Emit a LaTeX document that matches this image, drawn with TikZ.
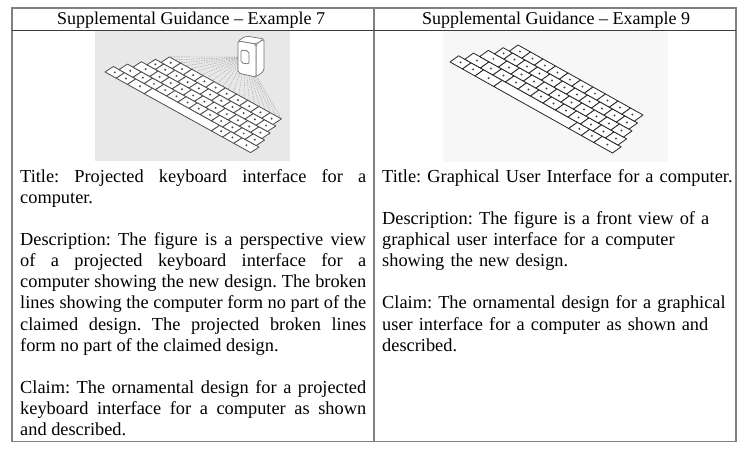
\documentclass[tikz,border=0pt]{standalone}
\usepackage{fontspec}
\setmainfont{Liberation Serif}
\definecolor{tablegray}{RGB}{128,128,128}
\definecolor{headrule}{RGB}{60,60,60}
\tikzset{
  tableline/.style={draw=tablegray,line width=1.6pt},
  headline/.style={draw=headrule,line width=0.9pt},
  headtext/.style={font=\fontsize{18}{21}\selectfont,inner sep=0pt,anchor=base},
  bodytext/.style={font=\fontsize{18.35}{21.1}\selectfont,inner sep=0pt,anchor=base west},
  keycap/.style={draw=black!85,line width=0.8pt,fill=white,line join=round},
  keymark/.style={fill=black!70},
  device/.style={draw=black!55,line width=0.7pt,fill=white,rounded corners=2pt},
  beam/.style={draw=black!40,line width=0.35pt,dash pattern=on 1.5pt off 1pt}
}
\newcommand\keyboard[1]{%
  \foreach \r/\s/\ws in {0/0/{1,1,1.5,6,1,1,1.5},
                         1/0.5/{1.25,1,1,1,1,1,1,1,1,1,1,1},
                         2/1/{1.5,1,1,1,1,1,1,1,1,1,1},
                         3/1.5/{0.75,1,1,1,1,1,1,1,1,1,1},
                         4/2/{1,1,1,1,1,1,1,1,1,1}}{%
    \xdef\kpos{\s}%
    \foreach \w in \ws {%
      \pgfmathsetmacro\knext{\kpos+\w}%
      \draw[keycap] (\kpos,\r) -- (\knext,\r) -- (\knext,\r+1) -- (\kpos,\r+1) -- cycle;
      \ifdim\w pt<2pt \fill[keymark] ({(\kpos+\knext)/2},\r+0.5) circle (1.1pt);\fi
      \xdef\kpos{\knext}%
    }%
  }%
  \foreach \i in {0,...,21} \coordinate (#1-\i) at ({2+\i*10/21},5);
}
\begin{document}
\begin{tikzpicture}[x=1pt,y=-1pt]
  \useasboundingbox (0,0) rectangle (752,454);
  \fill[black!9] (95,31) rectangle (290,161);
  \fill[black!3] (443,31) rectangle (668,162);

  \begin{scope}[shift={(105,72)},x={(11.2pt,-6.2pt)},y={(8.4pt,5.5pt)},
      keycap/.append style={draw=black!70}]
    \keyboard{kbA}
  \end{scope}
  \coordinate (lens) at (245,57);
  \foreach \i in {0,...,21} \draw[beam] (lens) -- (kbA-\i);
  \draw[device] (256,44) -- (264,39) -- (264,71) -- (256,77) -- cycle;
  \draw[device] (238,41) -- (246,36) -- (264,39) -- (256,44) -- cycle;
  \draw[device] (238,73) -- (238,41) -- (256,44) -- (256,77) -- cycle;
  \draw[device] (241,50) -- (249,51) -- (249,64) -- (241,63) -- cycle;

  \begin{scope}[shift={(450,62)},x={(12.5pt,-7pt)},y={(8.6pt,6.2pt)}]
    \keyboard{kbB}
  \end{scope}

  \draw[tableline] (12,8) rectangle (736,441.5);
  \draw[tableline] (374,8) -- (374,441.5);
  \draw[headline] (12,30) -- (736,30);

  \node[headtext] (headA) at (191,25) {Supplemental Guidance -- Example 7};
  \node[headtext] (headB) at (556,25) {Supplemental Guidance -- Example 9};

  \node[bodytext,text width=346pt,align=justify] (bodyA) at (20,182.4) {\frenchspacing\hyphenpenalty=10000
    Title: Projected keyboard interface for a\linebreak computer.\par\vspace{21.1pt}
    Description: The figure is a perspective view\linebreak of a projected keyboard interface for a\linebreak
    computer showing the new design. The broken\linebreak lines showing the computer form no part of the\linebreak
    claimed design. The projected broken lines\linebreak form no part of the claimed design.\par\vspace{21.1pt}
    Claim: The ornamental design for a projected\linebreak keyboard interface for a computer as shown\linebreak
    and described.};
  \node[bodytext,text width=356pt,align=left] (bodyB) at (382,182.4) {\frenchspacing\hyphenpenalty=10000
    Title: Graphical User Interface for a computer.\par\vspace{21.1pt}
    Description: The figure is a front view of a\\graphical user interface for a computer\\
    showing the new design.\par\vspace{21.1pt}
    Claim: The ornamental design for a graphical\\user interface for a computer as shown and\\
    described.};
\end{tikzpicture}
\end{document}
